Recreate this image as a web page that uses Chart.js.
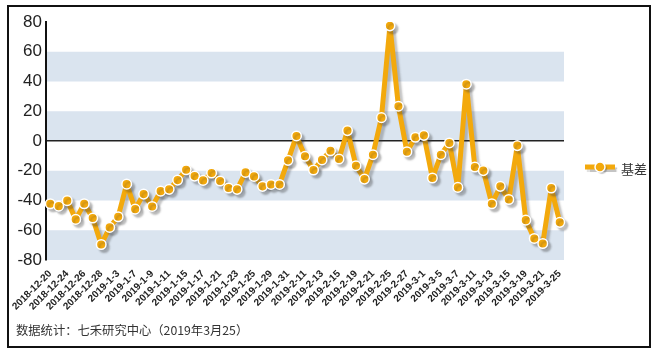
<!DOCTYPE html>
<html>
<head>
<meta charset="utf-8">
<script src="https://cdn.jsdelivr.net/npm/chart.js@4.4.1/dist/chart.umd.min.js"></script>
<style>
  html, body { margin: 0; padding: 0; background: #fff; }
  #wrap { position: relative; width: 652px; height: 353px; overflow: hidden; }
  #frame { position: absolute; left: 7px; top: 5px; width: 640px; height: 339px; border: 2px solid #111; }
  canvas { position: absolute; left: 0; top: 0; }
  #legend { position: absolute; left: 584px; top: 159px; height: 18px; font: 13px "Noto Sans CJK SC", sans-serif; color: #333; }
  #legend .mk { position: absolute; left: 0; top: 2px; width: 34px; height: 14px; }
  #legend .txt { position: absolute; left: 37px; top: 0; white-space: nowrap; }
  #footer { position: absolute; left: 16px; top: 321px; font: 12.3px "Noto Sans CJK SC", sans-serif; color: #333; white-space: nowrap; }
</style>
</head>
<body>
<div id="wrap">
  <div id="frame"></div>
  <canvas id="chart" width="652" height="353"></canvas>
  <div id="legend"><canvas class="mk" width="34" height="14"></canvas><span class="txt">基差</span></div>
  <div id="footer">数据统计：七禾研究中心（2019年3月25）</div>
</div>
<script>
// 交易日
const dates = [
  "2018-12-20","2018-12-21","2018-12-24","2018-12-25","2018-12-26","2018-12-27","2018-12-28",
  "2019-1-2","2019-1-3","2019-1-4","2019-1-7","2019-1-8","2019-1-9","2019-1-10","2019-1-11",
  "2019-1-14","2019-1-15","2019-1-16","2019-1-17","2019-1-18","2019-1-21","2019-1-22","2019-1-23",
  "2019-1-24","2019-1-25","2019-1-28","2019-1-29","2019-1-30","2019-1-31","2019-2-1",
  "2019-2-11","2019-2-12","2019-2-13","2019-2-14","2019-2-15","2019-2-18","2019-2-19","2019-2-20",
  "2019-2-21","2019-2-22","2019-2-25","2019-2-26","2019-2-27","2019-2-28","2019-3-1",
  "2019-3-4","2019-3-5","2019-3-6","2019-3-7","2019-3-8","2019-3-11","2019-3-12","2019-3-13",
  "2019-3-14","2019-3-15","2019-3-18","2019-3-19","2019-3-20","2019-3-21","2019-3-22","2019-3-25"
];

// 基差
const basis = [
  -42.2, -43.8, -40.1, -52.7, -42.2, -51.8, -69.6, -58.1, -50.9, -29.0,
  -45.8, -35.7, -44.0, -33.7, -32.5, -26.3, -19.3, -23.6, -26.5, -21.5,
  -26.9, -31.6, -32.5, -21.1, -23.8, -30.5, -29.2, -29.2, -13.0, 3.4,
  -10.3, -19.5, -12.7, -6.6, -12.1, 7.0, -16.6, -25.6, -9.2, 15.7,
  77.4, 23.4, -7.2, 2.5, 3.8, -24.9, -9.2, -1.3, -31.2, 38.2,
  -17.5, -19.9, -42.2, -30.5, -39.3, -3.1, -53.2, -65.5, -68.9, -31.6, -54.7
];

const yMin = -80, yMax = 80, yStep = 20;
// 背景色带（蓝）
const bands = [[40, 60], [0, 20], [-40, -20], [-80, -60]];

const ORANGE = "#F3A90C";
const BAND = "#DAE4EF";

const bandPlugin = {
  id: "bands",
  beforeDraw(chart) {
    const { ctx, chartArea: a, scales: { y } } = chart;
    ctx.save();
    ctx.fillStyle = BAND;
    bands.forEach(([lo, hi]) => {
      const t = y.getPixelForValue(hi), b = y.getPixelForValue(lo);
      ctx.fillRect(a.left, t, a.right - a.left, b - t);
    });
    ctx.restore();
  }
};

// 折线阴影
const shadowPlugin = {
  id: "shadow",
  beforeDatasetDraw(chart) {
    const ctx = chart.ctx;
    ctx.save();
    ctx.shadowColor = "rgba(60,60,60,0.3)";
    ctx.shadowOffsetX = 3;
    ctx.shadowOffsetY = 3;
    ctx.shadowBlur = 2;
  },
  afterDatasetDraw(chart) {
    chart.ctx.restore();
  }
};

new Chart(document.getElementById("chart"), {
  type: "line",
  data: {
    labels: dates,
    datasets: [{
      label: "基差",
      data: basis,
      borderColor: ORANGE,
      borderWidth: 5,
      borderJoinStyle: "round",
      backgroundColor: ORANGE,
      pointBackgroundColor: ORANGE,
      pointBorderColor: "#fff",
      pointBorderWidth: 1.5,
      pointRadius: 4.8,
      tension: 0,
      fill: false
    }]
  },
  options: {
    responsive: false,
    animation: false,
    layout: { padding: { top: 22, right: 88, left: 0, bottom: 0 } },
    plugins: { legend: { display: false }, tooltip: { enabled: false } },
    scales: {
      x: {
        offset: true,
        grid: { display: false },
        border: { display: false },
        ticks: {
          autoSkip: false,
          minRotation: 45,
          maxRotation: 45,
          padding: 0,
          color: "#222",
          font: { family: "Liberation Sans, Arial", size: 10, weight: "bold" },
          callback(v, i) { return i % 2 === 0 ? this.getLabelForValue(v) : ""; }
        },
        afterFit(s) { s.height = 93; }
      },
      y: {
        min: yMin,
        max: yMax,
        ticks: {
          stepSize: yStep,
          padding: 4,
          color: "#222",
          font: { family: "Liberation Sans, Arial", size: 17 }
        },
        grid: {
          drawTicks: false,
          lineWidth: 1.5,
          color: c => (c.tick && c.tick.value === 0 ? "#222" : "rgba(0,0,0,0)")
        },
        border: { display: true, color: "#111", width: 2 },
        afterFit(s) { s.width = 46; }
      }
    }
  },
  plugins: [bandPlugin, shadowPlugin]
});

// 图例标记
(function () {
  const c = document.querySelector("#legend .mk");
  const g = c.getContext("2d");
  g.shadowColor = "rgba(60,60,60,0.3)";
  g.shadowOffsetX = 2; g.shadowOffsetY = 2; g.shadowBlur = 1;
  g.strokeStyle = ORANGE; g.lineWidth = 5;
  g.beginPath(); g.moveTo(1, 6); g.lineTo(31, 6); g.stroke();
  g.beginPath(); g.arc(16, 6, 5, 0, Math.PI * 2);
  g.fillStyle = ORANGE; g.fill();
  g.shadowColor = "transparent";
  g.lineWidth = 1.5; g.strokeStyle = "#fff"; g.stroke();
})();
</script>
</body>
</html>
